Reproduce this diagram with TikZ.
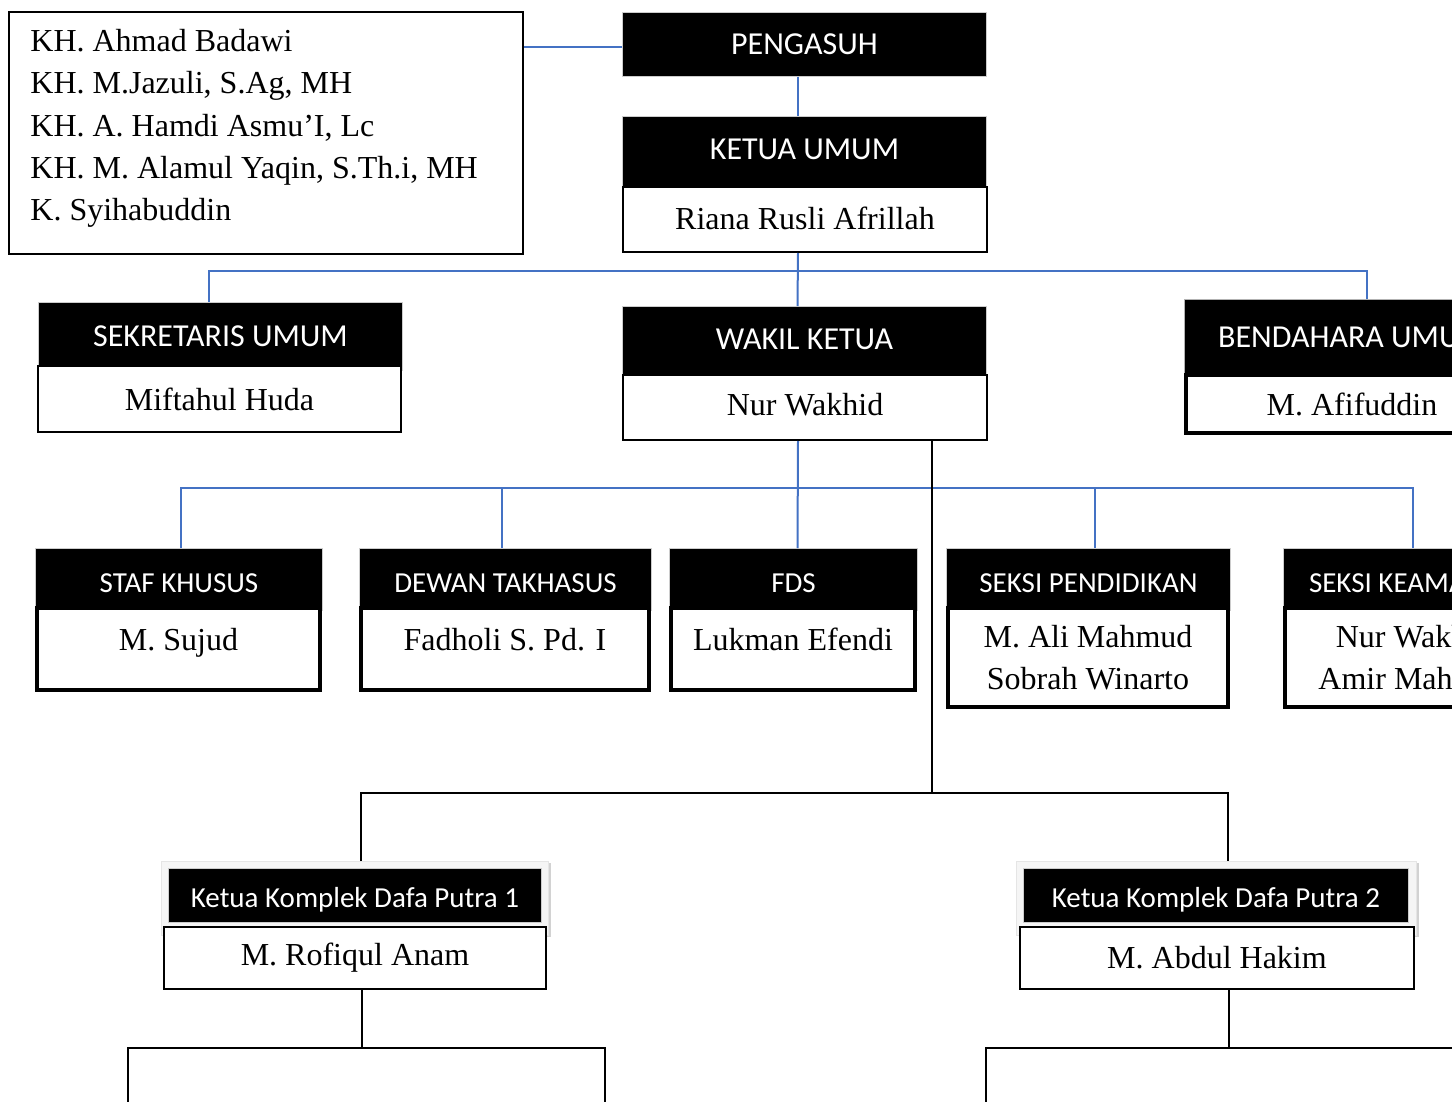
\documentclass[tikz,border=0pt]{standalone}
\usepackage{fontspec}
\setmainfont{Liberation Serif}
\newfontfamily\calfont{Carlito}
\usetikzlibrary{shadows}
\definecolor{garis}{RGB}{68,114,196}

\begin{document}
\begin{tikzpicture}[x=0.5pt,y=-0.5pt,
  kepala/.style={rectangle,fill=black,draw=gray!40,line width=0.5pt,text=white,font=\calfont\fontsize{16}{19}\selectfont,anchor=north west,inner sep=0pt,minimum width=182pt},
  kepalab/.style={kepala,font=\calfont\fontsize{14.5}{17}\selectfont,minimum height=31pt,text height=13pt,text depth=0pt},
  nama/.style={rectangle,fill=white,draw=black,line width=1pt,font=\fontsize{16}{21}\selectfont,anchor=north west,inner sep=0pt,minimum width=182pt,minimum height=32.5pt},
  namab/.style={nama,line width=2pt,minimum height=0pt,inner xsep=0pt,inner ysep=10.25pt,text height=11pt,text depth=9.5pt},
  namac/.style={nama,line width=2pt,align=center,minimum height=49.5pt},
  bingkai/.style={rectangle,fill=gray!8,draw=gray!20,anchor=north west,inner sep=0pt,drop shadow={shadow xshift=1.5pt,shadow yshift=-1pt,fill=gray!35,opacity=1}},
  kotak/.style={rectangle,draw=black,line width=1pt,anchor=north west,inner sep=0pt},
  biru/.style={draw=garis,line width=1pt},
  hitam/.style={draw=black,line width=1pt}]
\useasboundingbox (0,0) rectangle (1452,1102);
\clip (0,0) rectangle (1452,1102);

% pengasuh
\node[kotak,minimum width=257pt,minimum height=121pt] (asuh) at (8,11) {};
\node[anchor=north west,inner sep=0pt,align=flush left,font=\fontsize{16}{21.15}\selectfont] (asuhtx) at (30,29)
  {KH. Ahmad Badawi\\KH. M.Jazuli, S.Ag, MH\\KH. A. Hamdi Asmu'I, Lc\\KH. M. Alamul Yaqin, S.Th.i, MH\\K. Syihabuddin};
\node[kepala,minimum height=32pt] (peng) at (622,12) {PENGASUH};

% pengurus harian
\node[kepala,minimum height=35pt,text depth=2pt] (ketua) at (622,116) {KETUA UMUM};
\node[nama,text depth=1.5pt] (ketuanm) at (622,186) {Riana Rusli Afrillah};
\node[kepala,minimum height=34pt,text depth=1.5pt] (wakil) at (622,306) {WAKIL KETUA};
\node[nama,text depth=3pt] (wakilnm) at (622,374) {Nur Wakhid};
\node[kepala,minimum height=34pt] (sekre) at (38,302) {SEKRETARIS UMUM};
\node[nama,minimum width=181.5pt,minimum height=33pt] (sekrenm) at (37,365) {Miftahul Huda};
\node[kepala,minimum width=168pt,minimum height=38pt,draw=gray!60] (benda) at (1184,299) {BENDAHARA UMUM};
\node[nama,line width=2pt,minimum width=166pt,minimum height=29pt] (bendanm) at (1184,373) {M. Afifuddin};

% seksi
\node[kepalab,minimum width=143.5pt] (staf) at (35,548) {STAF KHUSUS};
\node[namab,minimum width=141.5pt] (stafnm) at (35,606) {M. Sujud};
\node[kepalab,minimum width=146pt] (dewan) at (359,548) {DEWAN TAKHASUS};
\node[namab,minimum width=144pt] (dewannm) at (359,606) {Fadholi S. Pd. I};
\node[kepalab,minimum width=124pt] (fds) at (669,548) {FDS};
\node[namab,minimum width=122pt] (fdsnm) at (669,606) {Lukman Efendi};
\node[kepalab,minimum width=142pt] (pend) at (946,548) {SEKSI PENDIDIKAN};
\node[namac,minimum width=140pt] (pendnm) at (946,606) {M. Ali Mahmud\\Sobrah Winarto};
\node[kepalab,minimum width=131pt] (keam) at (1283,548) {SEKSI KEAMANAN};
\node[namac,minimum width=129pt] (keamnm) at (1283,606) {Nur Wakhid\\Amir Mahmud};

% komplek
\node[bingkai,minimum width=193.5pt,minimum height=37pt] (kom1) at (161,861) {};
\node[kepala,font=\calfont\fontsize{14.5}{17}\selectfont,minimum width=186.5pt,minimum height=27pt,text height=13pt,text depth=1.5pt] (kom1hd) at (168,868) {Ketua Komplek Dafa Putra 1};
\node[nama,minimum width=191pt,minimum height=31pt] (kom1nm) at (163,926) {M. Rofiqul Anam};
\node[bingkai,minimum width=200pt,minimum height=37pt] (kom2) at (1016,861) {};
\node[kepala,font=\calfont\fontsize{14.5}{17}\selectfont,minimum width=192.5pt,minimum height=27pt,text height=13pt,text depth=1.5pt] (kom2hd) at (1023,868) {Ketua Komplek Dafa Putra 2};
\node[nama,minimum width=197pt,minimum height=31pt] (kom2nm) at (1019,926) {M. Abdul Hakim};
\node[kotak,minimum width=238.5pt,minimum height=40pt] (sub1) at (127,1047) {};
\node[kotak,minimum width=250pt,minimum height=40pt] (sub2) at (985,1047) {};

% garis
\coordinate (bus1) at (797,271);
\coordinate (bus2) at (797,488);
\coordinate (bus3) at (932,793);
\draw[biru] ([yshift=-1.5pt]peng.west) -- ([yshift=-1.5pt]peng.west -| asuh.east);
\draw[biru] ([xshift=-3.5pt]peng.south) -- ([xshift=-3.5pt]ketua.north);
\draw[biru] ([xshift=-3.5pt]ketuanm.south) -- ([xshift=-3.5pt]wakil.north);
\draw[biru] ([xshift=-6pt]sekre.north) |- (bus1) -| ([xshift=7pt]benda.north);
\draw[biru] ([xshift=-3.5pt]wakilnm.south) -- ([xshift=2pt]fds.north);
\draw[biru] ([xshift=0.75pt]staf.north) |- (bus2) -| ([xshift=-1pt]keam.north);
\foreach \n/\s in {dewan/-2pt,pend/3pt}
  \draw[biru] ([xshift=\s]\n.north) -- ([xshift=\s]\n.north |- bus2);
\draw[hitam] (wakilnm.south -| bus3) -- (bus3);
\draw[hitam] ([xshift=3.25pt]kom1.north) |- (bus3) -| ([xshift=6pt]kom2.north);
\draw[hitam] ([xshift=3.5pt]kom1nm.south) -- ([xshift=3.5pt]kom1nm.south |- sub1.north);
\draw[hitam] ([xshift=6pt]kom2nm.south) -- ([xshift=6pt]kom2nm.south |- sub2.north);
\end{tikzpicture}
\end{document}
